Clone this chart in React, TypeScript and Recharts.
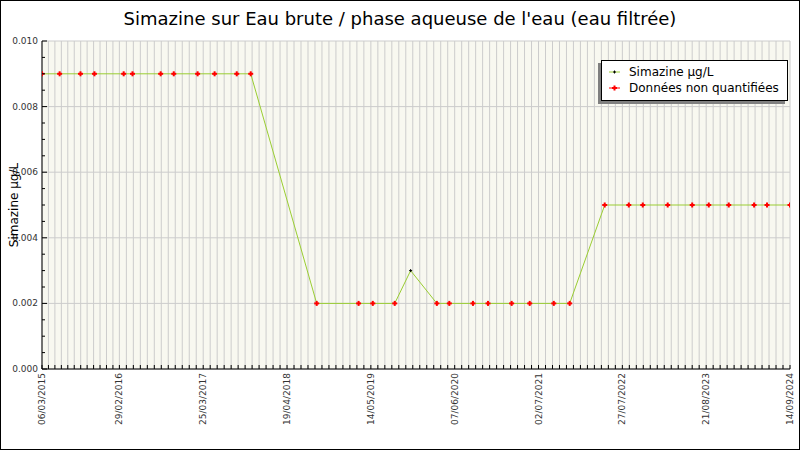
import { LineChart, Line, XAxis, YAxis, CartesianGrid, ReferenceLine, Legend } from 'recharts'

// prélèvements (date ISO), valeur en µg/L, et si la valeur est quantifiée
const sampleDates = [
  '2015-03-06', '2015-05-27', '2015-09-01', '2015-11-05', '2016-03-20', '2016-04-30',
  '2016-09-08', '2016-11-08', '2017-02-27', '2017-05-17', '2017-08-28', '2017-11-01',
  '2018-09-04', '2019-03-18', '2019-05-23', '2019-09-02', '2019-11-15', '2020-03-16',
  '2020-05-13', '2020-08-31', '2020-11-09', '2021-02-27', '2021-05-22', '2021-09-11',
  '2021-11-24', '2022-05-06', '2022-08-26', '2022-10-30', '2023-02-23', '2023-06-17',
  '2023-09-02', '2023-12-04', '2024-03-31', '2024-05-30', '2024-09-14',
]
const simazineValues = [
  0.009, 0.009, 0.009, 0.009, 0.009, 0.009,
  0.009, 0.009, 0.009, 0.009, 0.009, 0.009,
  0.002, 0.002, 0.002, 0.002, 0.003, 0.002,
  0.002, 0.002, 0.002, 0.002, 0.002, 0.002,
  0.002, 0.005, 0.005, 0.005, 0.005, 0.005,
  0.005, 0.005, 0.005, 0.005, 0.005,
]
const quantified = [
  false, false, false, false, false, false,
  false, false, false, false, false, false,
  false, false, false, false, true, false,
  false, false, false, false, false, false,
  false, false, false, false, false, false,
  false, false, false, false, false,
]
const dateLabels = [
  '06/03/2015', '29/02/2016', '25/03/2017', '19/04/2018', '14/05/2019',
  '07/06/2020', '02/07/2021', '27/07/2022', '21/08/2023', '14/09/2024',
]
const yMajorTicks = [0, 0.002, 0.004, 0.006, 0.008, 0.01]

const title = "Simazine sur Eau brute / phase aqueuse de l'eau (eau filtrée)"
const FONT = '"DejaVu Sans", sans-serif'

const isoDay = (s: string) => {
  const [y, m, d] = s.split('-').map(Number)
  return Date.UTC(y, m - 1, d) / 86400000
}
const frDay = (s: string) => {
  const [d, m, y] = s.split('/').map(Number)
  return Date.UTC(y, m - 1, d) / 86400000
}

const data = sampleDates.map((d, i) => ({ t: isoDay(d), v: simazineValues[i], q: quantified[i] }))

const labelDays = dateLabels.map(frDay)
const labelByDay = new Map(labelDays.map((d, i) => [d, dateLabels[i]]))
// 12 graduations mineures entre deux dates affichées
const xTicks: number[] = []
labelDays.forEach((d, i) => {
  if (i === labelDays.length - 1) {
    xTicks.push(d)
    return
  }
  const step = (labelDays[i + 1] - d) / 12
  for (let k = 0; k < 12; k++) xTicks.push(d + k * step)
})
const yTicks: number[] = []
yMajorTicks.forEach((v, i) => {
  yTicks.push(v)
  if (i < yMajorTicks.length - 1) {
    const step = (yMajorTicks[i + 1] - v) / 4
    for (let k = 1; k < 4; k++) yTicks.push(v + k * step)
  }
})

function XTick(props: any) {
  const { x, y, payload } = props
  const label = labelByDay.get(payload.value)
  return (
    <g>
      <line x1={x} x2={x} y1={y} y2={y - 4} stroke="#000" />
      {label && (
        <text
          x={x}
          y={y + 4}
          transform={`rotate(-90 ${x} ${y + 4})`}
          textAnchor="end"
          dominantBaseline="central"
          fontSize={9}
          fontFamily={FONT}
          fill="#333"
        >
          {label}
        </text>
      )}
    </g>
  )
}

function YTick(props: any) {
  const { x, y, payload } = props
  const r = payload.value / 0.002
  const major = Math.abs(r - Math.round(r)) < 1e-6
  return (
    <g>
      <line x1={x} x2={x + (major ? 5 : 3)} y1={y} y2={y} stroke="#000" />
      {major && (
        <text x={x - 4} y={y} textAnchor="end" dominantBaseline="central" fontSize={9} fontFamily={FONT} fill="#333">
          {payload.value.toFixed(3)}
        </text>
      )}
    </g>
  )
}

function Marker({ cx, cy, q }: { cx: number; cy: number; q: boolean }) {
  if (q) {
    return (
      <g>
        <line x1={cx - 1.5} x2={cx + 1.5} y1={cy} y2={cy} stroke="#000" />
        <line x1={cx} x2={cx} y1={cy - 1.5} y2={cy + 1.5} stroke="#000" />
      </g>
    )
  }
  return (
    <g fill="#ff0000">
      <rect x={cx - 2.5} y={cy - 1} width={5} height={2} />
      <rect x={cx - 1} y={cy - 2.5} width={2} height={5} />
    </g>
  )
}

const legendItems = [
  { name: 'Simazine µg/L', line: '#9acd32', q: true },
  { name: 'Données non quantifiées', line: '#ff0000', q: false },
]

function LegendBox() {
  return (
    <div
      style={{
        background: '#fff',
        border: '1px solid #000',
        boxShadow: '-3px 3px 0 #808080',
        padding: '3px 8px 4px 6px',
        fontFamily: FONT,
        fontSize: 12,
        lineHeight: '16px',
        whiteSpace: 'nowrap',
      }}
    >
      {legendItems.map((it) => (
        <div key={it.name} style={{ display: 'flex', alignItems: 'center' }}>
          <svg width={14} height={10} style={{ marginRight: 7 }}>
            <line x1={1} x2={12} y1={5} y2={5} stroke={it.line} />
            <Marker cx={6.5} cy={5} q={it.q} />
          </svg>
          {it.name}
        </div>
      ))}
    </div>
  )
}

export default function App() {
  return (
    <div
      style={{
        position: 'absolute',
        left: 0,
        top: 0,
        width: 800,
        height: 450,
        boxSizing: 'border-box',
        border: '1px solid #000',
        background: '#fff',
      }}
    >
      <div
        style={{
          position: 'absolute',
          left: 0,
          top: 7,
          width: '100%',
          textAlign: 'center',
          fontFamily: FONT,
          fontSize: 18,
          color: '#000',
        }}
      >
        {title}
      </div>
      <div style={{ position: 'absolute', left: -1, top: -1 }}>
        <LineChart width={800} height={450} data={data} margin={{ top: 41, right: 10, bottom: 0, left: 0 }}>
          <CartesianGrid horizontal={false} stroke="#cccccc" fill="#f8f8f0" fillOpacity={1} />
          {yMajorTicks.map((v) => (
            <ReferenceLine key={v} y={v} stroke="#cccccc" />
          ))}
          <XAxis
            dataKey="t"
            type="number"
            domain={[labelDays[0], labelDays[labelDays.length - 1]]}
            ticks={xTicks}
            interval={0}
            tick={<XTick />}
            tickLine={false}
            tickSize={0}
            tickMargin={0}
            axisLine={{ stroke: '#000' }}
            height={81}
            allowDataOverflow
          />
          <YAxis
            type="number"
            domain={[0, 0.01]}
            ticks={yTicks}
            interval={0}
            tick={<YTick />}
            tickLine={false}
            tickSize={0}
            tickMargin={0}
            axisLine={{ stroke: '#000' }}
            width={42}
            allowDataOverflow
            label={{
              value: 'Simazine µg/L',
              angle: -90,
              position: 'insideLeft',
              offset: 14,
              style: { textAnchor: 'middle', fontSize: 12, fontFamily: FONT, fill: '#000' },
            }}
          />
          <Legend
            content={<LegendBox />}
            layout="horizontal"
            align="center"
            verticalAlign="middle"
            wrapperStyle={{ left: 601, top: 60, width: 'auto' }}
          />
          <Line
            type="linear"
            dataKey="v"
            name="Simazine µg/L"
            stroke="#9acd32"
            strokeWidth={1}
            dot={(p: any) => <Marker key={p.index} cx={p.cx} cy={p.cy} q={p.payload.q} />}
            activeDot={false}
            isAnimationActive={false}
          />
        </LineChart>
      </div>
    </div>
  )
}
